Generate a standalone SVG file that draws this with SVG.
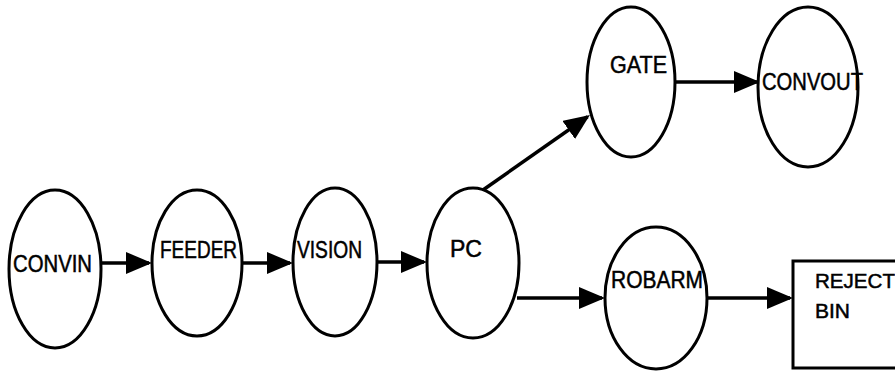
<svg xmlns="http://www.w3.org/2000/svg" width="895" height="372" viewBox="0 0 895 372">
  <style>
    .node { fill: #fff; stroke: #000; stroke-width: 3; }
    .lbl { font-family: "Liberation Sans", Arial, Helvetica, sans-serif; font-size: 23px; fill: #000; stroke: #000; stroke-width: 0.5; }
    .box { font-family: "Liberation Sans", Arial, Helvetica, sans-serif; font-size: 21px; fill: #000; stroke: #000; stroke-width: 0.5; }
    .edge { fill: none; stroke: #000; stroke-width: 3.5; marker-end: url(#arr); }
  </style>
  <defs>
    <marker id="arr" markerUnits="userSpaceOnUse" markerWidth="28" markerHeight="24" refX="23" refY="11" orient="auto">
      <path d="M0,0 L26,11 L0,22 Z" fill="#000"/>
    </marker>
  </defs>
  <rect width="895" height="372" fill="#fff"/>
  <g id="connectors">
    <line class="edge" x1="101" y1="263" x2="149" y2="263"/>
    <line class="edge" x1="242" y1="263" x2="290" y2="263"/>
    <line class="edge" x1="377" y1="262" x2="424" y2="262"/>
    <line class="edge" x1="483" y1="190" x2="587.5" y2="116.7"/>
    <line class="edge" x1="517" y1="298" x2="602" y2="298"/>
    <line class="edge" x1="708" y1="298" x2="790" y2="298"/>
    <line class="edge" x1="675" y1="82" x2="757" y2="82"/>
  </g>
  <g id="CONVIN">
    <ellipse class="node" cx="55" cy="269" rx="46" ry="79"/>
    <text class="lbl" x="13" y="272" textLength="79" lengthAdjust="spacingAndGlyphs">CONVIN</text>
  </g>
  <g id="FEEDER">
    <ellipse class="node" cx="197" cy="263" rx="45" ry="73"/>
    <text class="lbl" x="160" y="258" textLength="77" lengthAdjust="spacingAndGlyphs">FEEDER</text>
  </g>
  <g id="VISION">
    <ellipse class="node" cx="335" cy="262" rx="42" ry="74"/>
    <text class="lbl" x="297" y="258" textLength="65" lengthAdjust="spacingAndGlyphs">VISION</text>
  </g>
  <g id="PC">
    <ellipse class="node" cx="473" cy="263" rx="46" ry="75"/>
    <text class="lbl" x="450" y="257" textLength="32" lengthAdjust="spacingAndGlyphs">PC</text>
  </g>
  <g id="GATE">
    <ellipse class="node" cx="631" cy="82" rx="44" ry="75"/>
    <text class="lbl" x="610" y="73" textLength="57" lengthAdjust="spacingAndGlyphs">GATE</text>
  </g>
  <g id="CONVOUT">
    <ellipse class="node" cx="808" cy="87" rx="50" ry="80"/>
    <text class="lbl" x="762" y="90" textLength="101" lengthAdjust="spacingAndGlyphs">CONVOUT</text>
  </g>
  <g id="ROBARM">
    <ellipse class="node" cx="656" cy="298" rx="51" ry="71"/>
    <text class="lbl" x="611" y="288" textLength="92" lengthAdjust="spacingAndGlyphs">ROBARM</text>
  </g>
  <g id="REJECT_BIN">
    <rect class="node" x="793" y="261" width="110" height="107"/>
    <text class="box" x="815" y="288" textLength="80" lengthAdjust="spacingAndGlyphs">REJECT</text>
    <text class="box" x="815" y="318" textLength="35" lengthAdjust="spacingAndGlyphs">BIN</text>
  </g>
</svg>
